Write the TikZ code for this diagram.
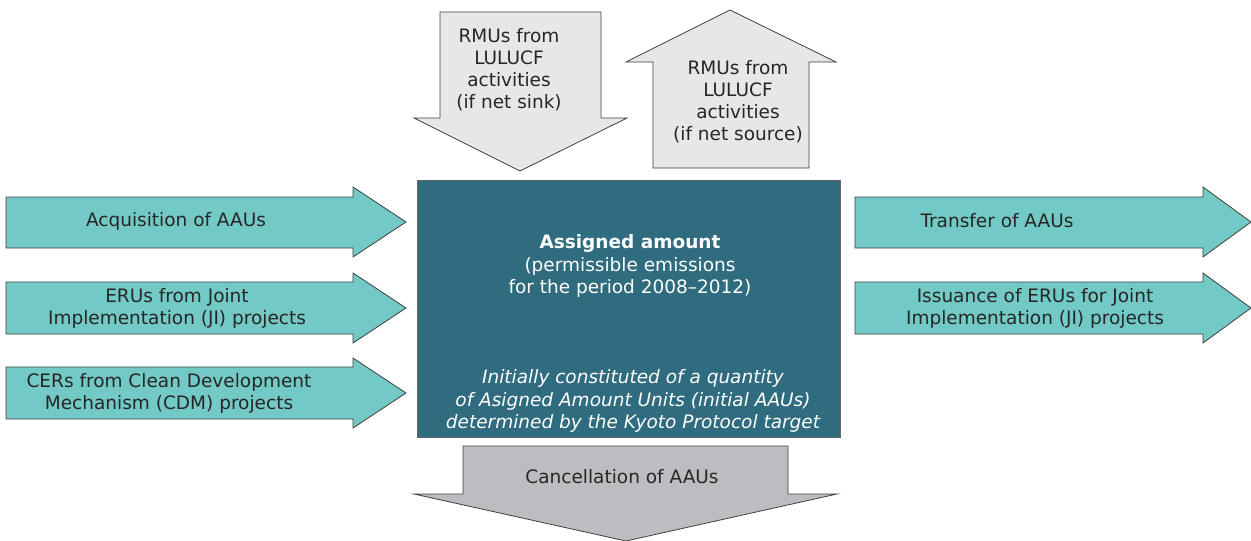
\documentclass[tikz,border=0pt]{standalone}
\usepackage{fontspec}
\setmainfont{DejaVu Sans}
\begin{document}
\begin{tikzpicture}[x=1pt,y=-1pt,
  outl/.style={draw=black!75, line width=0.8pt, line join=miter},
  teal/.style={outl, fill=tealc},
  light/.style={outl, fill=lightc},
  lbl/.style={font=\fontsize{18.5}{22}\selectfont, text=black!85, align=center, inner sep=0pt},
  wlbl/.style={font=\fontsize{18.5}{22.5}\selectfont, text=white, align=center, inner sep=0pt}]
\definecolor{tealc}{HTML}{72C9C5}
\definecolor{lightc}{HTML}{E6E7E8}
\definecolor{boxc}{HTML}{2F6C80}
\definecolor{cancc}{HTML}{BCBDC0}
\useasboundingbox (0,0) rectangle (1251,541);
% down arrow (net sink)
\path[light] (440,12) -- (601,12) -- (601,118) -- (627,118) -- (520,171) -- (414,118) -- (440,118) -- cycle;
\node[lbl] (sink) at (509,70) {RMUs from\\LULUCF\\activities\\(if net sink)};
% up arrow (net source)
\path[light] (653,168) -- (809,168) -- (809,62) -- (836,62) -- (730,10) -- (626,62) -- (653,62) -- cycle;
\node[lbl] (source) at (738,102) {RMUs from\\LULUCF\\activities\\(if net source)};
% main box
\path[outl, fill=boxc, draw=black!60] (417,180) rectangle (840,437);
\node[wlbl] (assigned) at (630,266) {\textbf{Assigned amount}\\(permissible emissions\\for the period 2008–2012)};
\node[wlbl] (initial) at (633,401) {\itshape Initially constituted of a quantity\\\itshape of Asigned Amount Units (initial AAUs)\\\itshape determined by the Kyoto Protocol target};
% cancellation
\path[outl, fill=cancc] (463,446) -- (788,446) -- (788,494) -- (837,494) -- (626,541) -- (414,494) -- (463,494) -- cycle;
\node[lbl] (cancel) at (622,477) {Cancellation of AAUs};
% left arrows
\path[teal] (6,197) -- (353,197) -- (353,187) -- (406,222) -- (353,257) -- (353,248) -- (6,248) -- cycle;
\node[lbl] (acq) at (176,221) {Acquisition of AAUs};
\path[teal] (6,282) -- (353,282) -- (353,273) -- (406,308) -- (353,343) -- (353,334) -- (6,334) -- cycle;
\node[lbl] (eru) at (177,308) {ERUs from Joint\\Implementation (JI) projects};
\path[teal] (6,367) -- (353,367) -- (353,358) -- (406,393) -- (353,428) -- (353,419) -- (6,419) -- cycle;
\node[lbl] (cer) at (169,393) {CERs from Clean Development\\Mechanism (CDM) projects};
% right arrows
\path[teal] (855,197) -- (1203,197) -- (1203,187) -- (1251,222) -- (1203,257) -- (1203,248) -- (855,248) -- cycle;
\node[lbl] (transfer) at (997,221) {Transfer of AAUs};
\path[teal] (855,282) -- (1203,282) -- (1203,273) -- (1251,308) -- (1203,343) -- (1203,334) -- (855,334) -- cycle;
\node[lbl] (issue) at (1035,308) {Issuance of ERUs for Joint\\Implementation (JI) projects};
\end{tikzpicture}
\end{document}
